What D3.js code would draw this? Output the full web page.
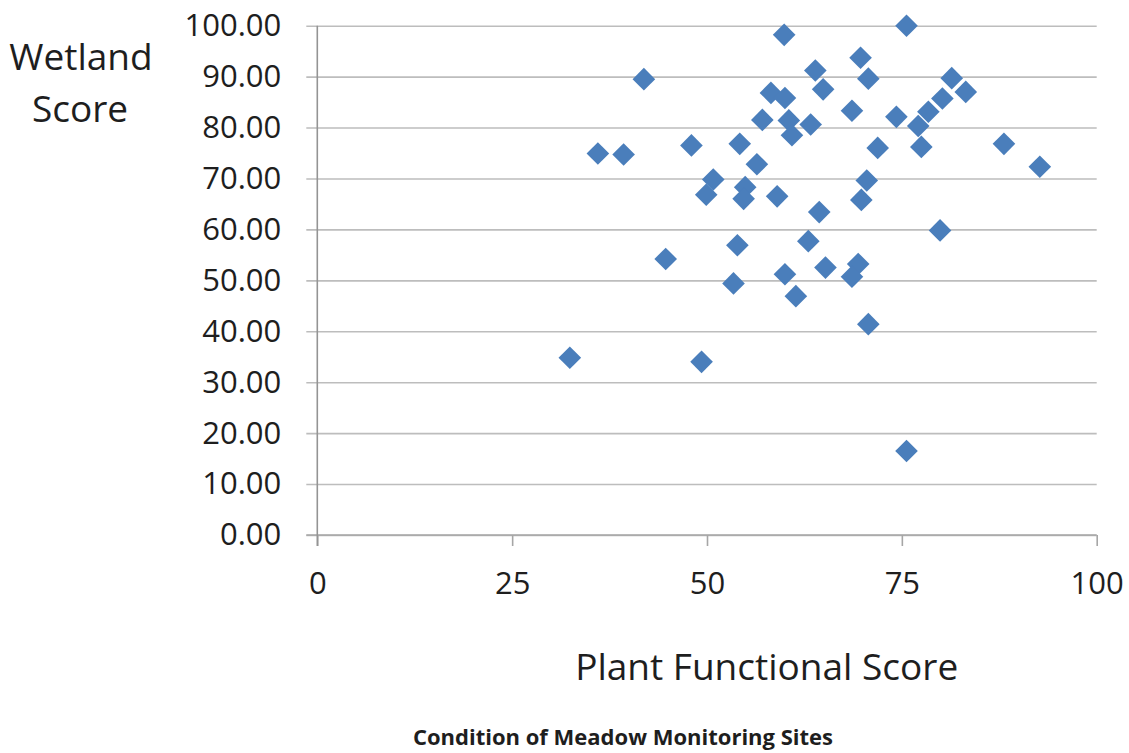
<!DOCTYPE html>
<html>
<head>
<meta charset="utf-8">
<script src="https://cdn.jsdelivr.net/npm/d3@7"></script>
<style>
  html, body { margin: 0; padding: 0; background: #fff; }
  svg { display: block; }
  text { font-family: "Open Sans", "Noto Sans", sans-serif; fill: #1e1e1e; }
</style>
</head>
<body>
<svg id="chart" width="1129" height="753"></svg>
<script>
// Data: Plant Functional Score (x) vs Wetland Score (y)
const plantScore = [41.9, 36.0, 39.3, 48.0, 50.8, 49.9, 44.7, 75.6, 59.9, 69.7,
  63.9, 70.7, 81.4, 64.9, 83.2, 58.2, 60.0, 80.2, 78.4, 68.6,
  74.3, 57.1, 60.5, 63.3, 77.1, 60.9, 54.2, 88.1, 77.5, 71.9,
  56.4, 92.7, 70.5, 54.9, 54.7, 59.0, 69.8, 64.4, 79.9, 53.9,
  63.0, 53.4, 60.0, 65.2, 69.4, 68.6, 61.4, 70.7, 75.6, 32.4, 49.3];
const wetlandScore = [89.5, 74.9, 74.7, 76.5, 69.8, 66.8, 54.2, 100.0, 98.2, 93.7,
  91.2, 89.6, 89.7, 87.5, 87.0, 86.8, 85.8, 85.7, 83.1, 83.3,
  82.1, 81.5, 81.4, 80.6, 80.3, 78.5, 76.8, 76.8, 76.2, 76.0,
  72.8, 72.3, 69.6, 68.3, 66.0, 66.5, 65.8, 63.4, 59.8, 56.9,
  57.7, 49.4, 51.2, 52.5, 53.2, 50.7, 46.9, 41.4, 16.5, 34.8, 34.0];
const xTicks = [0, 25, 50, 75, 100];
const yTicks = [0, 10, 20, 30, 40, 50, 60, 70, 80, 90, 100];
const xTitle = "Plant Functional Score";
const yTitle = ["Wetland", "Score"];
const chartTitle = "Condition of Meadow Monitoring Sites";

const points = plantScore.map((v, i) => ({ x: v, y: wetlandScore[i] }));

const svg = d3.select("#chart");
const x0 = 317.3, x1 = 1096.7, yBottom = 535, yTop = 25.7;
const tick = 11;
const x = d3.scaleLinear().domain([0, 100]).range([x0, x1]);
const y = d3.scaleLinear().domain([0, 100]).range([yBottom, yTop]);

// Gridlines + y tick labels
const yAxis = svg.append("g")
  .attr("transform", `translate(${x0 - tick},0)`)
  .call(d3.axisLeft(y).tickValues(yTicks).tickSize(-(x1 - x0 + tick))
    .tickPadding(25).tickFormat(d3.format(".2f")));
yAxis.select(".domain").remove();
yAxis.selectAll(".tick line").attr("stroke", "#bdbdbd").attr("stroke-width", 1.6);
yAxis.selectAll(".tick text").attr("font-size", 31).attr("font-family", "'Open Sans', sans-serif").attr("fill", "#1e1e1e");

// X axis
const xAxis = svg.append("g")
  .attr("transform", `translate(0,${yBottom})`)
  .call(d3.axisBottom(x).tickValues(xTicks).tickSize(tick).tickPadding(25.7).tickFormat(d3.format("d")));
xAxis.select(".domain").remove();
xAxis.selectAll(".tick line").attr("stroke", "#a6a6a6").attr("stroke-width", 1.6);
xAxis.selectAll(".tick text").attr("font-size", 31).attr("font-family", "'Open Sans', sans-serif").attr("fill", "#1e1e1e");

// Axis lines
svg.append("line").attr("x1", x0 - tick).attr("x2", x1).attr("y1", yBottom).attr("y2", yBottom)
  .attr("stroke", "#a6a6a6").attr("stroke-width", 1.6);
svg.append("line").attr("x1", x0).attr("x2", x0).attr("y1", yTop).attr("y2", yBottom + tick)
  .attr("stroke", "#949494").attr("stroke-width", 1.6);

// Points (diamonds)
const sym = d3.symbol().type(d3.symbolSquare).size(256);
svg.append("g").selectAll("path").data(points).join("path")
  .attr("d", sym)
  .attr("transform", d => `translate(${x(d.x)},${y(d.y)}) rotate(45)`)
  .attr("fill", "#4a7ebb");

// Axis titles
svg.append("text").attr("x", 81).attr("y", 70).attr("text-anchor", "middle")
  .attr("font-size", 37).text(yTitle[0]);
svg.append("text").attr("x", 80).attr("y", 121.7).attr("text-anchor", "middle")
  .attr("font-size", 37).text(yTitle[1]);
svg.append("text").attr("x", 766.7).attr("y", 680).attr("text-anchor", "middle")
  .attr("font-size", 37).text(xTitle);

// Chart title
svg.append("text").attr("x", 623).attr("y", 745).attr("text-anchor", "middle")
  .attr("font-size", 22).attr("font-weight", "bold").text(chartTitle);
</script>
</body>
</html>
